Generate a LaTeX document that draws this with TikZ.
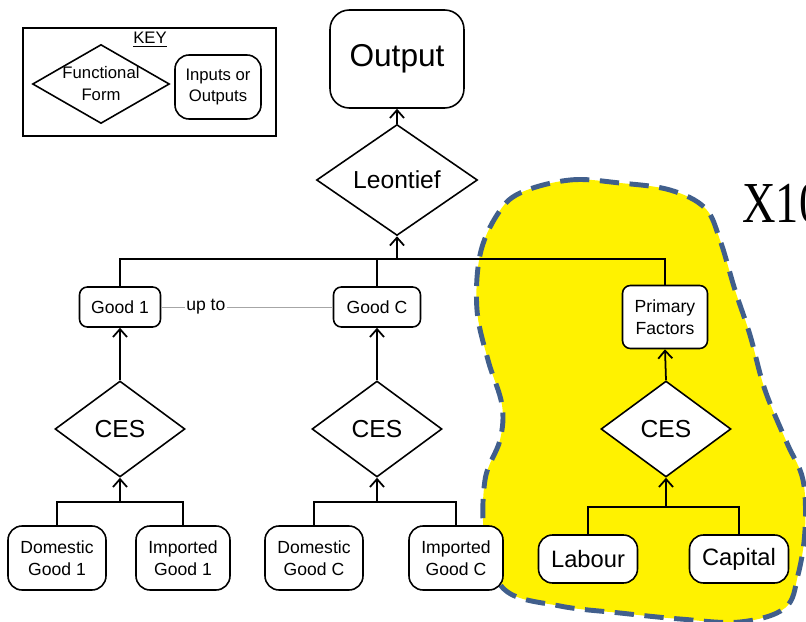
\documentclass[tikz,border=0pt]{standalone}
\usepackage{fontspec}
\setmainfont{Liberation Sans}
\newfontfamily\xserif{Liberation Serif}
\usetikzlibrary{arrows.meta,positioning,shapes.geometric}

\definecolor{blobline}{RGB}{65,95,140}

\begin{document}
\begin{tikzpicture}[
  x=0.02cm,y=-0.02cm,
  box/.style={draw, rounded corners=4.5pt, align=center, line width=0.9pt, fill=white, inner sep=1pt, font=\fontsize{10}{12.5}\selectfont},
  bigbox/.style={box, rounded corners=8pt, minimum width=1.96cm, minimum height=1.28cm},
  dia/.style={draw, diamond, line width=0.9pt, fill=white, inner sep=0pt, align=center, font=\fontsize{14}{16}\selectfont},
  arr/.style={-{Straight Barb[length=4.5pt,width=8pt]}, line width=1pt},
  link/.style={line width=1pt},
  lab/.style={font=\fontsize{10}{12}\selectfont, text=black, fill=white, inner sep=1pt}
]
\useasboundingbox (0,0) rectangle (806,622);

% shaded region round the primary factors
\fill[yellow] plot[smooth cycle, tension=0.6] coordinates {
  (520,193) (570,180) (620,183) (670,190) (705,208) (720,240) (735,290)
  (750,335) (765,390) (787,443) (803,480) (805,530) (798,575) (785,608)
  (740,622) (680,619) (620,613) (560,606) (505,590) (485,540) (485,480)
  (500,440) (502,405) (488,360) (477,310) (480,255) (497,215)};
\draw[blobline, line width=2.8pt, dash pattern=on 11pt off 6pt] plot[smooth cycle, tension=0.6] coordinates {
  (520,193) (570,180) (620,183) (670,190) (705,208) (720,240) (735,290)
  (750,335) (765,390) (787,443) (803,480) (805,530) (798,575) (785,608)
  (740,622) (680,619) (620,613) (560,606) (505,590) (485,540) (485,480)
  (500,440) (502,405) (488,360) (477,310) (480,255) (497,215)};
\node[font=\xserif\fontsize{33}{36}\selectfont, anchor=base west, inner sep=0pt] (xten) at (742,222) {\scalebox{0.8}[1]{X10}};

% key
\node[draw, line width=1pt, minimum width=5.06cm, minimum height=2.16cm] (key) at (149.5,82) {};
\node[font=\fontsize{9.5}{11}\selectfont, inner sep=0pt] (keyt) at (150,40) {\underline{KEY}};
\node[dia, fill=none, minimum width=2.74cm, minimum height=1.58cm,
  label={[font=\fontsize{9.5}{12.5}\selectfont, align=center]center:Functional\\Form}] (kdia) at (101,84) {};
\node[box, rounded corners=8pt, font=\fontsize{9.5}{12.5}\selectfont, minimum width=1.72cm, minimum height=1.28cm] (kbox) at (218,87) {Inputs or\\Outputs};

% top level
\node[box, rounded corners=11pt, font=\fontsize{18}{20}\selectfont, minimum width=2.68cm, minimum height=1.96cm] (out) at (397,59) {Output};
\node[dia, aspect=1.45, minimum width=3.22cm, minimum height=2.22cm] (leon) at (397,180) {Leontief};

% second level
\node[box, minimum width=1.62cm, minimum height=0.8cm] (g1) at (120,307) {Good 1};
\node[box, minimum width=1.74cm, minimum height=0.8cm] (gc) at (377,307) {Good C};
\node[box, minimum width=1.7cm, minimum height=1.26cm] (pf) at (665,317) {Primary\\Factors};

% nests
\node[dia, aspect=1.35, minimum width=2.6cm, minimum height=1.92cm] (ces1) at (120,429) {CES};
\node[dia, aspect=1.35, minimum width=2.6cm, minimum height=1.92cm] (cesc) at (377,429) {CES};
\node[dia, aspect=1.35, minimum width=2.6cm, minimum height=1.92cm] (cesp) at (666,429) {CES};

% inputs
\node[bigbox] (dg1) at (57,558) {Domestic\\Good 1};
\node[bigbox, minimum width=1.88cm] (ig1) at (183,558) {Imported\\Good 1};
\node[bigbox] (dgc) at (314,558) {Domestic\\Good C};
\node[bigbox, minimum width=1.88cm] (igc) at (456,558) {Imported\\Good C};
\node[bigbox, font=\fontsize{13.5}{15}\selectfont, minimum width=1.98cm, minimum height=0.96cm] (lab) at (588,559) {Labour};
\node[bigbox, font=\fontsize{13.5}{15}\selectfont, minimum width=1.98cm, minimum height=0.96cm] (cap) at (739,559) {Capital};

% joins
\coordinate (jtop) at (397,259);
\coordinate (j1) at (120,502);
\coordinate (jc) at (377,502);
\coordinate (jp) at (666,507);

\draw[arr] (leon.north) -- (out.south);
\draw[link] (g1.north) |- (pf.north |- jtop) -- (pf.north);
\draw[link] (gc.north) -- (gc.north |- jtop);
\draw[arr] (jtop) -- (leon.south);
\draw[gray!70, line width=0.5pt] (g1.east) -- node[lab, pos=0.26] {up to} (gc.west);

\draw[arr] (ces1.north) -- (g1.south);
\draw[arr] (cesc.north) -- (gc.south);
\draw[arr] (cesp.north) -- (pf.south);

\draw[link] (dg1.north) |- (j1) -| (ig1.north);
\draw[arr] (j1) -- (ces1.south);
\draw[link] (dgc.north) |- (jc) -| (igc.north);
\draw[arr] (jc) -- (cesc.south);
\draw[link] (lab.north) |- (jp) -| (cap.north);
\draw[arr] (jp) -- (cesp.south);
\end{tikzpicture}
\end{document}
